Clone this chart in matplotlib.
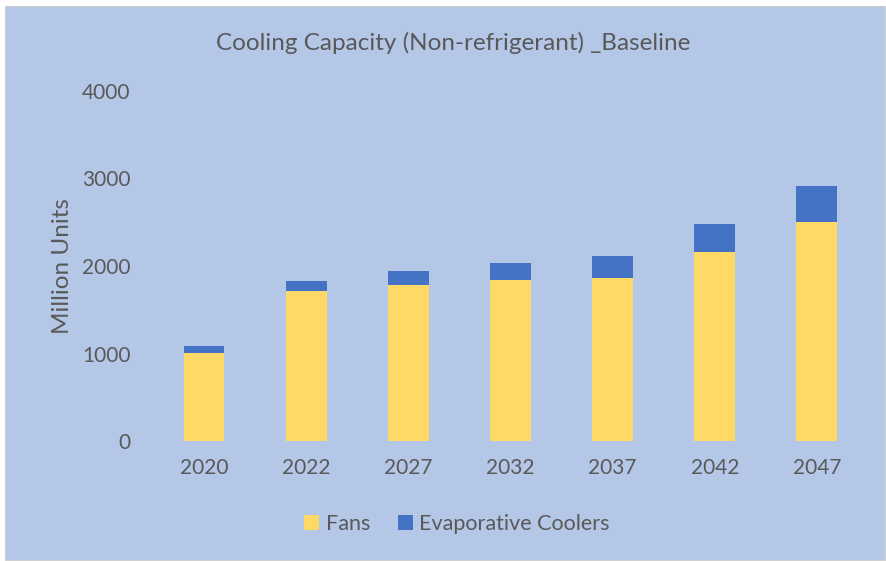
import numpy as np
import matplotlib.pyplot as plt
from matplotlib.patches import Rectangle

years = ['2020', '2022', '2027', '2032', '2037', '2042', '2047']
fans = [1005, 1715, 1785, 1840, 1865, 2165, 2500]
evap_coolers = [80, 115, 158, 190, 248, 315, 413]

bg = '#B4C7E7'
txt = '#595959'
plt.rcParams['font.family'] = ['Lato', 'DejaVu Sans']

fig = plt.figure(figsize=(8.87, 5.61), dpi=100)
fig.patch.set_facecolor('white')
fig.patches.append(Rectangle((5 / 887, 0.002), 1 - 7 / 887, 1 - 7 / 561,
                             transform=fig.transFigure, facecolor=bg,
                             edgecolor='#D0D0D0', linewidth=0.8, zorder=-10))

ax = fig.add_axes([153 / 887, 1 - 441 / 561, 715 / 887, 350 / 561])
ax.set_facecolor('none')

x = np.arange(len(years))
ax.bar(x, fans, width=0.4, color='#FFD966', label='Fans')
ax.bar(x, evap_coolers, width=0.4, bottom=fans, color='#4472C4',
       label='Evaporative Coolers')

ax.set_xlim(-0.5, len(years) - 0.5)
ax.set_ylim(0, 4000)
ax.set_yticks([0, 1000, 2000, 3000, 4000])
ax.set_xticks(x)
ax.set_xticklabels(years)
ax.tick_params(axis='both', length=0, labelsize=15, colors=txt)
ax.tick_params(axis='y', pad=16)
ax.tick_params(axis='x', pad=12)
for s in ax.spines.values():
    s.set_visible(False)

ax.set_ylabel('Million Units', fontsize=17.5, color=txt)
ax.yaxis.set_label_coords(-0.112, 0.5)
fig.text(453 / 887, 1 - 43 / 561, 'Cooling Capacity (Non-refrigerant) _Baseline',
         ha='center', va='center', fontsize=17.5, color=txt)

fig.legend(loc='center', bbox_to_anchor=(457 / 887, 1 - 524 / 561), ncol=2,
           frameon=False, fontsize=15.5, labelcolor=txt, handlelength=0.7,
           handleheight=0.7, handletextpad=0.3, columnspacing=1.3)

fig.savefig('out.png', dpi=100, facecolor=fig.get_facecolor())
